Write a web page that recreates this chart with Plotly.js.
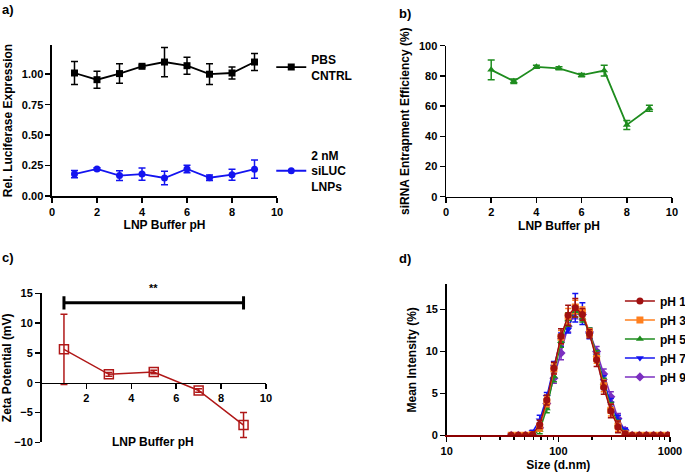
<!DOCTYPE html>
<html>
<head>
<meta charset="utf-8">
<script src="https://cdn.plot.ly/plotly-3.0.1.min.js"></script>
<style>html,body{margin:0;padding:0;background:#fff;}#chart{width:685px;height:472px;}</style>
</head>
<body>
<div id="chart"></div>
<script>
// ---- Panel a: relative luciferase expression ----
const phA = [1, 2, 3, 4, 5, 6, 7, 8, 9];
const pbsMean = [1.01, 0.955, 1.005, 1.065, 1.10, 1.07, 1.00, 1.01, 1.10];
const pbsErr  = [0.095, 0.07, 0.08, 0.01, 0.12, 0.07, 0.085, 0.05, 0.07];
const silucMean = [0.18, 0.222, 0.168, 0.18, 0.148, 0.222, 0.15, 0.175, 0.22];
const silucErr  = [0.03, 0.01, 0.04, 0.05, 0.055, 0.03, 0.022, 0.045, 0.075];

// ---- Panel b: siRNA entrapment efficiency ----
const phB = [2, 3, 4, 5, 6, 7, 8, 9];
const entrapMean = [84, 76.5, 86, 85, 80.5, 83.5, 47.5, 58.5];
const entrapErr  = [6.5, 1.5, 1, 1, 1, 3.5, 3, 2];

// ---- Panel c: zeta potential ----
const phC = [1, 3, 5, 7, 9];
const zetaMean = [5.6, 1.4, 1.8, -1.3, -7.1];
const zetaErr  = [5.9, 0.3, 0.3, 0.3, 2.1];

// ---- Panel d: size distribution ----
const sizes = [37.84, 43.82, 50.75, 58.77, 68.06, 78.82, 91.28, 105.7, 122.4, 141.8, 164.2, 190.1, 220.2, 255.0, 295.3, 342.0, 396.1, 458.7, 531.2, 615.1, 712.4, 825.0, 955.4];
const ph1 = [0,0,0,0.1,1.3,4.2,8.0,11.8,14.3,15.2,14.4,12.1,9.0,5.7,2.9,1.0,0.2,0,0,0,0,0,0];
const ph1Err = [0,0,0,0.1,0.5,0.6,0.7,0.9,1.2,1.1,0.7,0.5,0.8,0.8,0.8,0.7,0.2,0,0,0,0,0,0];
const ph3 = [0,0,0,0.1,1.0,4.0,7.9,11.7,14.2,15.3,14.7,12.2,9.2,5.9,3.0,1.1,0.2,0,0,0,0,0,0];
const ph3Err = [0,0,0,0.1,0.5,0.6,0.6,0.8,0.9,0.8,0.6,0.5,0.6,0.7,0.7,0.6,0.2,0,0,0,0,0,0];
const ph5 = [0,0,0,0.1,0.6,3.2,7.0,11.2,13.8,14.8,14.0,12.3,9.6,6.2,3.3,1.3,0.3,0,0,0,0,0,0];
const ph5Err = [0,0,0,0.1,0.4,0.5,0.6,0.7,0.8,0.7,0.5,0.5,0.5,0.6,0.6,0.5,0.2,0,0,0,0,0,0];
const ph7 = [0,0,0,0.4,1.8,4.6,8.2,11.4,12.6,15.2,14.5,12.0,9.5,6.5,3.8,1.8,0.5,0,0,0,0,0,0];
const ph7Err = [0,0,0,0.2,0.6,0.5,0.6,0.8,0.4,1.7,1.3,0.5,0.6,0.6,0.6,0.6,0.3,0,0,0,0,0,0];
const ph9 = [0,0,0,0.1,0.9,3.8,6.8,9.8,13.0,14.6,14.4,12.3,10.0,7.3,4.6,2.0,0.6,0,0,0,0,0,0];
const ph9Err = [0,0,0,0.1,0.4,0.5,0.6,0.8,0.7,0.7,0.6,0.5,0.6,0.6,0.6,0.6,0.3,0,0,0,0,0,0];
const dLabels = ['pH 1', 'pH 3', 'pH 5', 'pH 7', 'pH 9'];
const dMajorTicks = [10, 100, 1000];
const dMinorTicks = [20, 30, 40, 50, 60, 70, 80, 90, 200, 300, 400, 500, 600, 700, 800, 900];

const FONT = 'Liberation Sans, Arial, sans-serif';
const BF = (s) => ({family: FONT, size: s, color: '#000', weight: 'bold'});

function eb(arr, color, w) {
  return {type: 'data', array: arr, visible: true, color: color, thickness: 1.5, width: w === undefined ? 3 : w};
}

const traces = [];
// a
traces.push({x: phA, y: pbsMean, xaxis: 'x', yaxis: 'y', type: 'scatter', mode: 'lines+markers',
  name: 'PBS<br>CNTRL', legend: 'legend',
  line: {color: '#000', width: 1.8}, marker: {symbol: 'square', size: 7, color: '#000'},
  error_y: eb(pbsErr, '#000', 3.5)});
traces.push({x: phA, y: silucMean, xaxis: 'x', yaxis: 'y', type: 'scatter', mode: 'lines+markers',
  name: '2 nM<br>siLUC<br>LNPs', legend: 'legend3',
  line: {color: '#1414f0', width: 1.8}, marker: {symbol: 'circle', size: 7, color: '#1414f0'},
  error_y: eb(silucErr, '#1414f0', 3.5)});
// b
traces.push({x: phB, y: entrapMean, xaxis: 'x2', yaxis: 'y2', type: 'scatter', mode: 'lines+markers',
  showlegend: false, line: {color: '#1e8c1e', width: 1.8},
  marker: {symbol: 'triangle-up', size: 7, color: '#1e8c1e'}, error_y: eb(entrapErr, '#1e8c1e', 3.5)});
// c
traces.push({x: phC, y: zetaMean, xaxis: 'x3', yaxis: 'y3', type: 'scatter', mode: 'lines+markers',
  showlegend: false, line: {color: '#b01818', width: 1.5},
  marker: {symbol: 'square-open', size: 9, color: '#b01818', line: {width: 1.5}}, error_y: eb(zetaErr, '#b01818', 3.5)});
// d (drawn pH 9 first so pH 1 is on top)
const dSeries = [
  {y: ph9, e: ph9Err, c: '#7b2fc0', s: 'diamond', n: 4},
  {y: ph7, e: ph7Err, c: '#1414f0', s: 'triangle-down', n: 3},
  {y: ph5, e: ph5Err, c: '#1e8c1e', s: 'triangle-up', n: 2},
  {y: ph3, e: ph3Err, c: '#ff7f1e', s: 'square', n: 1},
  {y: ph1, e: ph1Err, c: '#a01010', s: 'circle', n: 0}
];
dSeries.forEach(d => {
  traces.push({x: sizes, y: d.y, xaxis: 'x4', yaxis: 'y4', type: 'scatter', mode: 'lines+markers',
    name: dLabels[d.n], legend: 'legend2', legendrank: d.n + 1,
    line: {color: d.c, width: 1.5}, marker: {symbol: d.s, size: 7, color: d.c},
    error_y: eb(d.e, d.c, 3)});
});

const axBase = {showline: true, linecolor: '#000', linewidth: 1.5, ticks: 'outside', ticklen: 5, tickwidth: 1.5,
  tickcolor: '#000', showgrid: false, zeroline: false, tickfont: BF(11), title: {font: BF(12)}};

// panel c zero-line position in paper coords
const y3dom = [0.0629, 0.3786];
const y3range = [-10, 15];
const x3pos = y3dom[0] + (0 - y3range[0]) / (y3range[1] - y3range[0]) * (y3dom[1] - y3dom[0]);

const layout = {
  width: 685, height: 472,
  margin: {l: 0, r: 0, t: 0, b: 0, autoexpand: false},
  paper_bgcolor: '#fff', plot_bgcolor: 'rgba(0,0,0,0)',
  font: {family: FONT, color: '#000'},
  showlegend: true,
  xaxis: Object.assign({}, axBase, {domain: [0.0759, 0.4044], anchor: 'y', range: [0, 10], dtick: 2,
    title: {text: 'LNP Buffer pH', font: BF(12), standoff: 4}}),
  yaxis: Object.assign({}, axBase, {domain: [0.5847, 0.9047], anchor: 'x', range: [0, 1.24],
    tickvals: [0, 0.25, 0.5, 0.75, 1.0], ticktext: ['0.00', '0.25', '0.50', '0.75', '1.00'],
    title: {text: 'Rel. Luciferase Expression', font: BF(12), standoff: 6}}),
  xaxis2: Object.assign({}, axBase, {domain: [0.6511, 0.9810], anchor: 'y2', range: [0, 10], dtick: 2,
    title: {text: 'LNP Buffer pH', font: BF(12), standoff: 4}}),
  yaxis2: Object.assign({}, axBase, {domain: [0.5833, 0.9032], anchor: 'x2', range: [0, 100], dtick: 20,
    title: {text: 'siRNA Entrapment Efficiency (%)', font: BF(12), standoff: 6}}),
  xaxis3: Object.assign({}, axBase, {domain: [0.0606, 0.3883], anchor: 'free', position: x3pos, range: [0, 10],
    tickvals: [2, 4, 6, 8, 10]}),
  yaxis3: Object.assign({}, axBase, {domain: y3dom, anchor: 'x3', range: y3range, dtick: 5,
    title: {text: 'Zeta Potential (mV)', font: BF(12), standoff: 6}}),
  xaxis4: Object.assign({}, axBase, {domain: [0.6521, 0.9781], anchor: 'y4', type: 'log', range: [1, 3],
    linecolor: '#8b0000', tickmode: 'array', tickvals: dMajorTicks, ticktext: ['10', '100', '1000'],
    minor: {tickmode: 'array', tickvals: dMinorTicks, ticks: 'outside', ticklen: 3, tickwidth: 1.2, tickcolor: '#000', showgrid: false},
    title: {text: 'Size (d.nm)', font: BF(12), standoff: 4}}),
  yaxis4: Object.assign({}, axBase, {domain: [0.0777, 0.3977], anchor: 'x4', range: [0, 18], tickvals: [0, 5, 10, 15],
    title: {text: 'Mean Intensity (%)', font: BF(12), standoff: 6}}),
  legend: {x: 0.396, y: 0.857, xanchor: 'left', yanchor: 'middle', font: BF(12), bgcolor: 'rgba(0,0,0,0)',
    itemwidth: 30, tracegroupgap: 0},
  legend3: {x: 0.396, y: 0.638, xanchor: 'left', yanchor: 'middle', font: BF(12), bgcolor: 'rgba(0,0,0,0)',
    itemwidth: 30},
  legend2: {x: 0.905, y: 0.282, xanchor: 'left', yanchor: 'middle', font: BF(12), bgcolor: 'rgba(0,0,0,0)',
    itemwidth: 30, traceorder: 'normal'},
  shapes: [
    {type: 'line', xref: 'x3', yref: 'y3', x0: 1, x1: 9, y0: 13.4, y1: 13.4, line: {color: '#000', width: 3}},
    {type: 'line', xref: 'x3', yref: 'y3', x0: 1, x1: 1, y0: 12.3, y1: 14.5, line: {color: '#000', width: 3}},
    {type: 'line', xref: 'x3', yref: 'y3', x0: 9, x1: 9, y0: 12.3, y1: 14.5, line: {color: '#000', width: 3}}
  ],
  annotations: [
    {text: 'a)', xref: 'paper', yref: 'paper', x: 0.0, y: 1 - 10 / 472, xanchor: 'left', yanchor: 'middle', showarrow: false, font: BF(13)},
    {text: 'b)', xref: 'paper', yref: 'paper', x: 397 / 685, y: 1 - 13 / 472, xanchor: 'left', yanchor: 'middle', showarrow: false, font: BF(13)},
    {text: 'c)', xref: 'paper', yref: 'paper', x: 0.0, y: 1 - 257 / 472, xanchor: 'left', yanchor: 'middle', showarrow: false, font: BF(13)},
    {text: 'd)', xref: 'paper', yref: 'paper', x: 397 / 685, y: 1 - 258 / 472, xanchor: 'left', yanchor: 'middle', showarrow: false, font: BF(13)},
    {text: '**', xref: 'x3', yref: 'y3', x: 5, y: 14.6, xanchor: 'center', yanchor: 'bottom', showarrow: false, font: BF(11)},
    {text: 'LNP Buffer pH', xref: 'paper', yref: 'paper', x: (153) / 685, y: 1 - 442 / 472, xanchor: 'center', yanchor: 'middle', showarrow: false, font: BF(12)}
  ]
};

Plotly.newPlot('chart', traces, layout, {displayModeBar: false, staticPlot: true});
</script>
</body>
</html>
